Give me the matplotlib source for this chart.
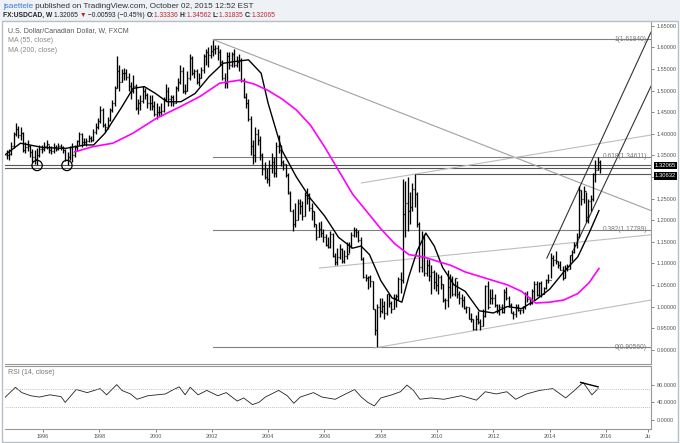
import numpy as np
import matplotlib
matplotlib.use("Agg")
import matplotlib.pyplot as plt
from matplotlib.patches import Rectangle
from matplotlib.transforms import blended_transform_factory, ScaledTranslation

plt.rcParams['font.family'] = ['Liberation Sans', 'DejaVu Sans']

# monthly bars, Sep 1994 .. Oct 2015
start_year, start_month = 1994, 9
close = [1.350, 1.352, 1.372, 1.400,
         1.410, 1.398, 1.402, 1.362, 1.370, 1.372, 1.358, 1.345, 1.342, 1.350, 1.365, 1.365,
         1.372, 1.376, 1.362, 1.360, 1.370, 1.365, 1.372, 1.370, 1.362, 1.338, 1.345, 1.370,
         1.350, 1.370, 1.382, 1.400, 1.380, 1.380, 1.384, 1.390, 1.385, 1.405, 1.415, 1.430,
         1.455, 1.420, 1.415, 1.432, 1.455, 1.470, 1.505, 1.545, 1.520, 1.540, 1.540, 1.532,
         1.510, 1.500, 1.510, 1.460, 1.470, 1.475, 1.500, 1.490, 1.470, 1.470, 1.465, 1.445,
         1.450, 1.450, 1.452, 1.480, 1.500, 1.480, 1.485, 1.470, 1.505, 1.520, 1.545, 1.500,
         1.500, 1.530, 1.575, 1.540, 1.545, 1.520, 1.530, 1.548, 1.580, 1.590, 1.583, 1.592,
         1.595, 1.598, 1.590, 1.565, 1.530, 1.518, 1.580, 1.560, 1.585, 1.560, 1.565, 1.570,
         1.525, 1.485, 1.470, 1.435, 1.372, 1.350, 1.400, 1.385, 1.350, 1.318, 1.300, 1.295,
         1.328, 1.335, 1.308, 1.372, 1.362, 1.335, 1.330, 1.305, 1.262, 1.222, 1.190, 1.200,
         1.240, 1.232, 1.210, 1.258, 1.252, 1.228, 1.222, 1.190, 1.160, 1.180, 1.170, 1.162,
         1.142, 1.138, 1.168, 1.118, 1.102, 1.115, 1.132, 1.105, 1.118, 1.122, 1.140, 1.165,
         1.178, 1.172, 1.155, 1.110, 1.068, 1.065, 1.068, 1.058, 0.995, 0.945, 1.000, 0.990,
         1.002, 0.985, 1.028, 1.008, 0.995, 1.020, 1.025, 1.063, 1.062, 1.215, 1.240, 1.222,
         1.230, 1.272, 1.260, 1.192, 1.092, 1.163, 1.077, 1.095, 1.070, 1.080, 1.057, 1.050,
         1.068, 1.052, 1.015, 1.015, 1.045, 1.063, 1.030, 1.066, 1.028, 1.020, 1.015, 0.997,
         1.000, 0.972, 0.972, 0.948, 0.970, 0.965, 0.955, 0.978, 1.048, 0.998, 1.020, 1.020,
         1.003, 0.990, 0.998, 0.988, 1.034, 1.020, 1.003, 0.986, 0.983, 0.998, 0.993, 0.993,
         0.998, 1.030, 1.017, 1.007, 1.035, 1.052, 1.027, 1.054, 1.030, 1.043, 1.062, 1.062,
         1.113, 1.108, 1.105, 1.097, 1.085, 1.067, 1.090, 1.087, 1.120, 1.127, 1.142, 1.160,
         1.270, 1.250, 1.268, 1.208, 1.245, 1.248, 1.306, 1.316, 1.335, 1.321]
high = [1.362, 1.365, 1.380, 1.405,
        1.425, 1.418, 1.415, 1.405, 1.380, 1.385, 1.375, 1.365, 1.362, 1.368, 1.375, 1.375,
        1.380, 1.385, 1.375, 1.372, 1.378, 1.375, 1.378, 1.376, 1.372, 1.365, 1.358, 1.372,
        1.378, 1.375, 1.385, 1.405, 1.402, 1.390, 1.390, 1.396, 1.395, 1.410, 1.425, 1.436,
        1.463, 1.460, 1.425, 1.438, 1.460, 1.478, 1.510, 1.580, 1.560, 1.550, 1.552, 1.550,
        1.540, 1.520, 1.535, 1.515, 1.480, 1.490, 1.510, 1.505, 1.495, 1.490, 1.490, 1.475,
        1.470, 1.465, 1.470, 1.485, 1.515, 1.508, 1.490, 1.490, 1.510, 1.530, 1.560, 1.555,
        1.515, 1.545, 1.585, 1.580, 1.550, 1.550, 1.540, 1.555, 1.585, 1.595, 1.600, 1.606,
        1.618, 1.606, 1.605, 1.595, 1.570, 1.540, 1.590, 1.590, 1.590, 1.595, 1.580, 1.585,
        1.575, 1.530, 1.495, 1.480, 1.440, 1.385, 1.415, 1.410, 1.395, 1.355, 1.335, 1.320,
        1.340, 1.355, 1.345, 1.380, 1.398, 1.375, 1.340, 1.330, 1.310, 1.268, 1.225, 1.240,
        1.250, 1.248, 1.245, 1.265, 1.275, 1.262, 1.240, 1.222, 1.190, 1.195, 1.198, 1.180,
        1.168, 1.160, 1.175, 1.170, 1.125, 1.135, 1.145, 1.135, 1.130, 1.150, 1.150, 1.172,
        1.185, 1.182, 1.178, 1.160, 1.115, 1.075, 1.070, 1.072, 1.060, 0.995, 1.005, 1.020,
        1.020, 1.012, 1.030, 1.030, 1.012, 1.030, 1.030, 1.068, 1.080, 1.295, 1.290, 1.300,
        1.265, 1.285, 1.306, 1.265, 1.195, 1.175, 1.168, 1.110, 1.110, 1.095, 1.085, 1.080,
        1.075, 1.073, 1.052, 1.020, 1.085, 1.075, 1.070, 1.067, 1.058, 1.035, 1.030, 1.025,
        1.002, 1.000, 0.985, 0.970, 0.980, 0.990, 0.970, 0.995, 1.050, 1.058, 1.040, 1.040,
        1.030, 1.005, 1.005, 1.005, 1.040, 1.045, 1.025, 1.008, 0.990, 1.005, 1.005, 0.995,
        1.002, 1.034, 1.035, 1.022, 1.040, 1.060, 1.058, 1.057, 1.058, 1.045, 1.064, 1.075,
        1.123, 1.120, 1.128, 1.105, 1.105, 1.094, 1.095, 1.098, 1.120, 1.130, 1.150, 1.170,
        1.280, 1.270, 1.280, 1.265, 1.250, 1.258, 1.310, 1.340, 1.346, 1.338]
low = [1.342, 1.340, 1.350, 1.368,
       1.395, 1.390, 1.385, 1.358, 1.355, 1.360, 1.345, 1.335, 1.330, 1.328, 1.345, 1.355,
       1.360, 1.365, 1.355, 1.352, 1.355, 1.360, 1.362, 1.362, 1.355, 1.336, 1.327, 1.340,
       1.335, 1.345, 1.360, 1.375, 1.370, 1.375, 1.372, 1.380, 1.380, 1.383, 1.400, 1.410,
       1.425, 1.415, 1.405, 1.410, 1.430, 1.450, 1.465, 1.505, 1.500, 1.520, 1.525, 1.525,
       1.500, 1.480, 1.495, 1.455, 1.445, 1.455, 1.470, 1.480, 1.460, 1.455, 1.455, 1.440,
       1.435, 1.440, 1.440, 1.450, 1.475, 1.465, 1.465, 1.465, 1.470, 1.500, 1.515, 1.495,
       1.493, 1.500, 1.525, 1.535, 1.530, 1.515, 1.510, 1.530, 1.540, 1.558, 1.555, 1.575,
       1.580, 1.585, 1.570, 1.558, 1.525, 1.505, 1.505, 1.550, 1.555, 1.555, 1.555, 1.545,
       1.520, 1.482, 1.460, 1.430, 1.350, 1.330, 1.335, 1.375, 1.340, 1.305, 1.295, 1.285,
       1.280, 1.310, 1.300, 1.300, 1.355, 1.325, 1.315, 1.300, 1.260, 1.220, 1.175, 1.185,
       1.200, 1.215, 1.200, 1.210, 1.238, 1.220, 1.200, 1.185, 1.155, 1.160, 1.160, 1.150,
       1.140, 1.135, 1.135, 1.115, 1.095, 1.095, 1.110, 1.100, 1.100, 1.110, 1.125, 1.135,
       1.162, 1.160, 1.150, 1.108, 1.065, 1.058, 1.040, 1.045, 0.995, 0.935, 0.906, 0.975,
       0.985, 0.972, 0.980, 1.000, 0.985, 0.995, 1.000, 1.015, 1.032, 1.055, 1.160, 1.175,
       1.190, 1.220, 1.230, 1.185, 1.080, 1.080, 1.070, 1.070, 1.060, 1.030, 1.040, 1.035,
       1.030, 1.040, 1.010, 0.995, 1.000, 1.020, 1.025, 1.025, 1.020, 1.006, 1.000, 0.995,
       0.985, 0.970, 0.965, 0.945, 0.945, 0.960, 0.945, 0.955, 0.975, 0.995, 1.005, 1.005,
       1.000, 0.985, 0.980, 0.985, 0.985, 1.015, 1.000, 0.985, 0.970, 0.975, 0.990, 0.982,
       0.985, 0.995, 1.010, 1.003, 1.006, 1.015, 1.024, 1.025, 1.021, 1.028, 1.040, 1.055,
       1.065, 1.093, 1.098, 1.090, 1.085, 1.062, 1.066, 1.083, 1.087, 1.105, 1.124, 1.135,
       1.160, 1.235, 1.240, 1.195, 1.193, 1.220, 1.244, 1.289, 1.315, 1.310]

# moving averages (decimal year, value)
ma55_t = [1994.65, 1995.2, 1996.0, 1996.8, 1997.5, 1997.8, 1998.2, 1998.8, 1999.2, 1999.6,
          2000.0, 2000.4, 2000.9, 2001.4, 2001.9, 2002.4, 2002.8, 2003.3, 2003.75, 2004.0,
          2004.5, 2005.0, 2005.5, 2006.0, 2006.5, 2007.0, 2007.3, 2007.6, 2008.0, 2008.4,
          2008.75, 2009.0, 2009.3, 2009.6, 2009.9, 2010.2, 2010.6, 2011.0, 2011.5, 2012.0,
          2012.5, 2013.0, 2013.5, 2014.0, 2014.5, 2015.0, 2015.4, 2015.75]
ma55_v = [1.351, 1.378, 1.368, 1.366, 1.374, 1.374, 1.401, 1.462, 1.505, 1.509,
          1.493, 1.474, 1.474, 1.493, 1.532, 1.563, 1.567, 1.571, 1.540, 1.47,
          1.36, 1.30, 1.25, 1.21, 1.16, 1.135, 1.14, 1.12, 1.06, 1.02,
          1.01, 1.07, 1.13, 1.17, 1.14, 1.09, 1.05, 1.035, 0.99, 0.985,
          1.00, 0.995, 1.015, 1.04, 1.08, 1.115, 1.17, 1.222]
ma200_t = [1997.13, 1997.77, 1998.48, 1999.19, 2000.04, 2000.86, 2001.57, 2002.28, 2002.99,
           2003.5, 2004.0, 2004.5, 2005.0, 2005.5, 2006.0, 2006.5, 2007.0, 2007.5, 2008.0,
           2008.5, 2009.0, 2009.5, 2010.0, 2010.5, 2011.0, 2011.5, 2012.0, 2012.5, 2013.0,
           2013.5, 2014.0, 2014.5, 2015.0, 2015.4, 2015.75]
ma200_v = [1.358, 1.370, 1.378, 1.401, 1.436, 1.462, 1.486, 1.517, 1.524,
           1.515, 1.50, 1.48, 1.455, 1.42, 1.37, 1.315, 1.26, 1.22, 1.18,
           1.145, 1.12, 1.115, 1.105, 1.095, 1.08, 1.07, 1.06, 1.05, 1.035,
           1.008, 1.01, 1.015, 1.03, 1.055, 1.088]

# RSI(14)
rsi_t = [1994.63, 1995.02, 1995.25, 1995.56, 1995.87, 1996.25, 1996.64, 1996.79, 1997.18,
         1997.57, 1998.03, 1998.26, 1998.62, 1998.80, 1999.11, 1999.34, 1999.73, 2000.35,
         2000.58, 2000.84, 2001.05, 2001.23, 2001.51, 2001.82, 2002.21, 2002.51, 2002.90,
         2003.13, 2003.44, 2003.67, 2003.90, 2004.37, 2004.68, 2004.91, 2005.14, 2005.61,
         2005.91, 2006.38, 2006.69, 2007.07, 2007.31, 2007.54, 2007.77, 2008.00, 2008.39,
         2008.70, 2008.93, 2009.16, 2009.39, 2009.78, 2010.24, 2010.86, 2011.40, 2011.71,
         2012.10, 2012.48, 2012.79, 2013.18, 2013.64, 2014.11, 2014.57, 2014.88, 2015.19,
         2015.50, 2015.72]
rsi_v = [50, 74, 62, 55, 52, 57, 53, 40, 69,
         62, 71, 57, 80, 67, 59, 47, 55, 59,
         67, 75, 57, 74, 57, 67, 55, 62, 43,
         50, 35, 40, 52, 67, 55, 38, 52, 62,
         52, 47, 57, 69, 52, 40, 32, 50, 57,
         64, 79, 67, 47, 50, 47, 55, 45, 64,
         59, 64, 47, 59, 67, 71, 50, 67, 85,
         57, 71]

# drawings on the chart
fib_start = 2002.03
fib_names = ['1', '0.618', '0.382', '0']
fib_levels = [1.61840, 1.34611, 1.17789, 0.90560]
level_lines = [1.3265, 1.3206]
last_prices = [1.32065, 1.30632]
line_1306_start = 2009.2
double_bottom_t = [1995.79, 1996.85]
gray_lines = [((2002.05, 1.618), (2017.6, 1.222))]
channel_lines = [((2007.31, 1.286), (2017.6, 1.397)),
                 ((2005.82, 1.089), (2017.6, 1.166)),
                 ((2007.77, 0.904), (2017.6, 1.015))]
steep_lines = [((2013.9, 1.112), (2017.6, 1.635)),
               ((2014.85, 1.131), (2017.6, 1.510))]
rsi_div = ((2015.1, 85), (2015.72, 75))

year_ticks = [1996, 1998, 2000, 2002, 2004, 2006, 2008, 2010, 2012, 2014, 2016, 2017.5]
year_labels = ['1996', '1998', '2000', '2002', '2004', '2006', '2008', '2010', '2012',
               '2014', '2016', 'Ju']

W, H = 680, 443
fig = plt.figure(figsize=(W / 100, H / 100), dpi=100)
fig.patch.set_facecolor('white')

def fbox(x0, y0, x1, y1):
    return [x0 / W, 1 - y1 / H, (x1 - x0) / W, (y1 - y0) / H]

def text_run(x, y, parts, size):
    # write coloured pieces one after the other on one line
    for txt, col, bold in parts:
        t = fig.text(x / W, 1 - y / H, txt, color=col, fontsize=size, va='center',
                     fontweight='bold' if bold else 'normal')
        fig.canvas.draw()
        x += t.get_window_extent().width

# header band
fig.patches.append(Rectangle((0, 1 - 21 / H), 1, 21 / H, transform=fig.transFigure,
                             facecolor='#eef1f5', edgecolor='none', zorder=-5))
fig.patches.append(Rectangle((2 / W, 1 / H), 676 / W, (H - 22) / H, transform=fig.transFigure,
                             facecolor='none', edgecolor='#b9bec4', lw=1.0, zorder=5))
text_run(3, 6, [('jsaettele', '#3a7bd5', False),
                (' published on TradingView.com, October 02, 2015 12:52 EST', '#333333', False)],
         5.9)
red = '#c0262d'
text_run(3, 15.5, [('FX:USDCAD, W ', '#222222', True), ('1.32065 ', '#222222', False),
                   ('\u25bc', red, False), (' \u22120.00593 (\u22120.45%) ', '#222222', False),
                   ('O:', '#222222', True), ('1.33336 ', red, False),
                   ('H:', '#222222', True), ('1.34562 ', red, False),
                   ('L:', '#222222', True), ('1.31835 ', red, False),
                   ('C:', '#222222', True), ('1.32065', red, False)], 4.8)

ax = fig.add_axes(fbox(5, 22, 651, 364))
rx = fig.add_axes(fbox(5, 366, 651, 429), sharex=ax)

n = len(close)
t_mid = np.array([start_year + (start_month - 1 + i + 0.5) / 12 for i in range(n)])
opens = [close[0]] + close[:-1]
ax.vlines(t_mid, low, high, color='black', lw=0.95, zorder=3)
ax.hlines(close, t_mid, t_mid + 0.035, color='black', lw=0.9, zorder=3)
ax.hlines(opens, t_mid - 0.035, t_mid, color='black', lw=0.9, zorder=3)
ax.plot(ma55_t, ma55_v, color='black', lw=1.0, zorder=4)
ax.plot(ma200_t, ma200_v, color='#ff00ff', lw=1.2, zorder=4)

for name, lev in zip(fib_names, fib_levels):
    ax.plot([fib_start, 2017.6], [lev, lev], color='#808080', lw=0.8, zorder=2)
    ax.text(2017.45, lev, f'{name}({lev:.5f})', ha='right', va='center',
            fontsize=4.8, color='#777777', zorder=5)
for lev in level_lines:
    ax.axhline(lev, color='#555555', lw=0.8, zorder=2)
ax.plot([line_1306_start, 2017.6], [last_prices[1]] * 2, color='#555555', lw=0.8, zorder=2)
for (a, b) in gray_lines:
    ax.plot([a[0], b[0]], [a[1], b[1]], color='#a0a0a0', lw=0.8, zorder=2)
for (a, b) in channel_lines:
    ax.plot([a[0], b[0]], [a[1], b[1]], color='#bdbdbd', lw=0.8, zorder=2)
for (a, b) in steep_lines:
    ax.plot([a[0], b[0]], [a[1], b[1]], color='#333333', lw=0.8, zorder=2)
ax.scatter(double_bottom_t, [level_lines[0]] * 2, s=55, facecolors='none',
           edgecolors='black', lw=0.9, zorder=6)

ax.set_xlim(1994.65, 2017.6)
ax.set_ylim(0.8669, 1.6586)
ax.yaxis.tick_right()
ticks = np.round(np.arange(0.90, 1.651, 0.05), 2)
ax.set_yticks(ticks)
ax.set_yticklabels([f'{v:.5f}' for v in ticks])
ax.tick_params(axis='y', labelsize=4, colors='#555555', length=2, width=0.5, pad=2)
ax.tick_params(axis='x', bottom=False, labelbottom=False)
for side in ['top', 'left']:
    ax.spines[side].set_visible(False)
ax.spines['right'].set_color('#999999')
ax.spines['bottom'].set_color('#999999')

# last-price tags on the price scale
tr = blended_transform_factory(ax.transAxes, ax.transData)
shifts = [2.6, -1.8]
for p, dy in zip(last_prices, shifts):
    ax.text(1.006, p, f'{p:.5f}', ha='left', va='center', fontsize=4.2,
            color='white', zorder=7, clip_on=False,
            transform=tr + ScaledTranslation(0, dy / 100, fig.dpi_scale_trans),
            bbox=dict(boxstyle='square,pad=0.18', fc='black', ec='none'))

ax.text(3 / 646, 1 - 9 / 342, 'U.S. Dollar/Canadian Dollar, W, FXCM', transform=ax.transAxes,
        fontsize=5, color='#555555', va='center')
ax.text(3 / 646, 1 - 19 / 342, 'MA (55, close)', transform=ax.transAxes,
        fontsize=5, color='#888888', va='center')
ax.text(3 / 646, 1 - 29 / 342, 'MA (200, close)', transform=ax.transAxes,
        fontsize=5, color='#888888', va='center')

# RSI pane
rx.plot(rsi_t, rsi_v, color='#222222', lw=0.6)
rx.plot([rsi_div[0][0], rsi_div[1][0]], [rsi_div[0][1], rsi_div[1][1]], color='black', lw=1.0)
rx.axhline(70, color='#aaaaaa', lw=0.6, ls=(0, (1, 1.5)))
rx.axhline(30, color='#aaaaaa', lw=0.6, ls=(0, (1, 1.5)))
rx.set_ylim(-20, 122)
rx.yaxis.tick_right()
rx.set_yticks([0, 40, 80])
rx.set_yticklabels(['0.0000', '40.0000', '80.0000'])
rx.tick_params(axis='y', labelsize=4, colors='#555555', length=2, width=0.5, pad=2)
rx.set_xticks(year_ticks)
rx.set_xticklabels(year_labels)
rx.tick_params(axis='x', labelsize=4, colors='#555555', length=2, width=0.5, pad=1.5)
rx.spines['left'].set_visible(False)
for side in ['right', 'bottom', 'top']:
    rx.spines[side].set_color('#999999')
rx.text(3 / 646, 1 - 7 / 63, 'RSI (14, close)', transform=rx.transAxes,
        fontsize=5, color='#777777', va='center')

fig.savefig('out.png', dpi=100)
